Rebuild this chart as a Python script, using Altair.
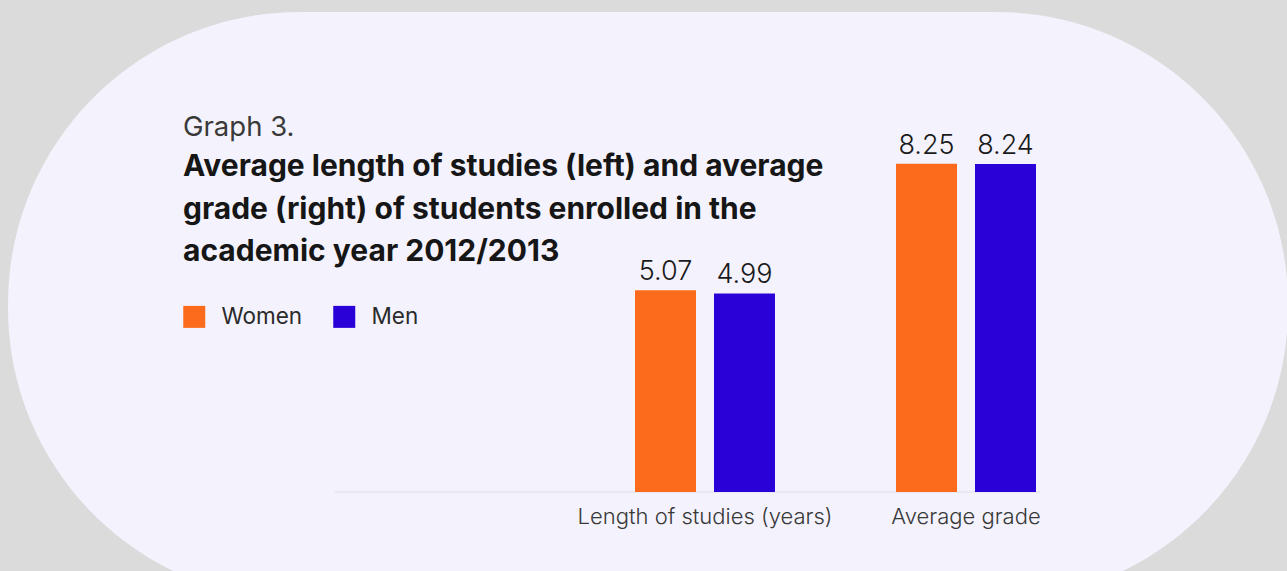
import altair as alt
import pandas as pd

categories = ["Length of studies (years)", "Average grade"]
genders = ["Women", "Men"]
women_values = [5.07, 8.25]
men_values = [4.99, 8.24]
value_labels_w = ["5.07", "8.25"]
value_labels_m = ["4.99", "8.24"]
colors = ["#fc6a1c", "#2a02d8"]

title_small = "Graph 3."
title_lines = [
    "Average length of studies (left) and average",
    "grade (right) of students enrolled in the",
    "academic year 2012/2013",
]

rows = []
for i, c in enumerate(categories):
    rows.append({"category": c, "gender": "Women", "value": women_values[i], "label": value_labels_w[i]})
    rows.append({"category": c, "gender": "Men", "value": men_values[i], "label": value_labels_m[i]})
df = pd.DataFrame(rows)
cat_df = pd.DataFrame({"category": categories})

FONT = "Inter"

xscale = alt.Scale(domain=categories, range=[574.5, 1096.5], paddingInner=0, paddingOuter=0)
yscale = alt.Scale(domain=[0, 9], range=[492, 133.8], nice=False, zero=True)
offscale = alt.Scale(domain=genders, paddingInner=0.228, paddingOuter=0.766)
colscale = alt.Scale(domain=genders, range=colors)

one = pd.DataFrame({"k": [0]})

bg = alt.Chart(one).mark_rect(
    color="#f4f3fd", cornerRadius=292
).encode(
    x=alt.value(8), x2=alt.value(1288), y=alt.value(12), y2=alt.value(600)
)

baseline = alt.Chart(one).mark_rule(color="#e4e4ec", strokeWidth=1.5).encode(
    x=alt.value(335), x2=alt.value(1040), y=alt.value(492)
)

bars = alt.Chart(df).mark_bar(size=61).encode(
    x=alt.X("category:N", scale=xscale, sort=categories, axis=None),
    xOffset=alt.XOffset("gender:N", scale=offscale, sort=genders),
    y=alt.Y("value:Q", scale=yscale, axis=None),
    color=alt.Color(
        "gender:N", scale=colscale, sort=genders,
        legend=alt.Legend(
            title=None, orient="none", legendX=183, legendY=305.5, direction="horizontal",
            symbolType="square", symbolSize=484, symbolStrokeWidth=0, symbolOpacity=1,
            labelFont=FONT, labelFontSize=22.5, labelColor="#2a2a2a", labelOffset=16,
            columnPadding=30, padding=0,
        ),
    ),
)

labels = alt.Chart(df).mark_text(
    baseline="alphabetic", dy=-10, font=FONT, fontSize=27, fontWeight=300, color="#1a1a1a"
).encode(
    x=alt.X("category:N", scale=xscale, sort=categories, axis=None),
    xOffset=alt.XOffset("gender:N", scale=offscale, sort=genders),
    y=alt.Y("value:Q", scale=yscale, axis=None),
    text="label:N",
)

cat_labels = alt.Chart(cat_df).mark_text(
    baseline="alphabetic", font=FONT, fontSize=22, fontWeight=300, color="#383838"
).encode(
    x=alt.X("category:N", scale=xscale, sort=categories, axis=None),
    y=alt.value(524),
    text="category:N",
)

t_small = alt.Chart(one).mark_text(
    align="left", baseline="alphabetic", font=FONT, fontSize=27.5, fontWeight=400,
    color="#3a3a3a", text=title_small
).encode(x=alt.value(183), y=alt.value(136))

t_lines = alt.Chart(one).mark_text(
    align="left", baseline="alphabetic", font=FONT, fontSize=30, fontWeight=700,
    color="#161616", text=title_lines, lineHeight=42.5
).encode(x=alt.value(183), y=alt.value(176))

chart = alt.layer(bg, baseline, bars, labels, cat_labels, t_small, t_lines).properties(
    width=1287, height=571,
    autosize=alt.AutoSizeParams(type="none"),
    padding=0,
    background="#dbdbdb",
).configure_view(stroke=None, fill=None)

chart.save("out.html", embed_options={"renderer": "svg", "actions": False})
